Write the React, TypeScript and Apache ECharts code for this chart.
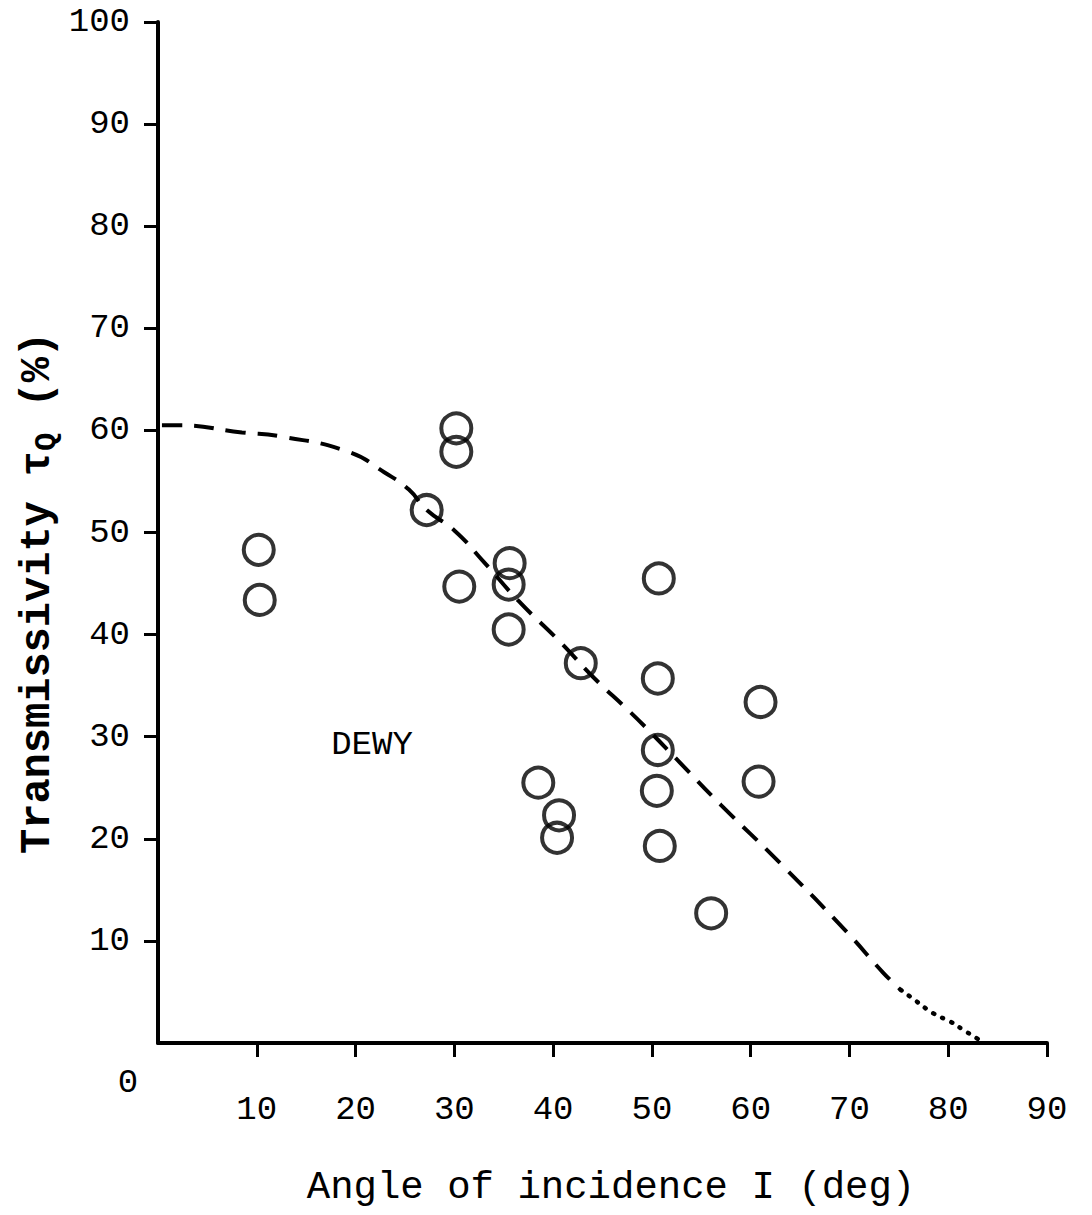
import React, { useEffect, useRef } from "react";
import * as echarts from "echarts";

// Measured observations: [angle (deg), transmissivity (%)]
const dewyPoints: number[][] = [
  [10.2, 48.3], [10.3, 43.4],
  [30.2, 60.2], [30.2, 57.9], [27.2, 52.2], [30.5, 44.7],
  [35.6, 47.0], [35.5, 44.9], [35.5, 40.5],
  [42.8, 37.2], [38.5, 25.5], [40.6, 22.3], [40.4, 20.1],
  [50.7, 45.5], [50.6, 35.7], [50.6, 28.7], [50.5, 24.7], [50.8, 19.3],
  [56.0, 12.7], [61.0, 33.4], [60.8, 25.6],
];

// Dashed model curve
const curveDashed: number[][] = [
  [0.4, 60.5], [1.9, 60.5], [8.5, 59.8], [12.5, 59.4], [19.3, 57.9],
  [22.9, 55.9], [25.4, 54.2], [27.2, 52.2], [30.0, 50.2], [33.0, 47.1],
  [36.5, 43.3], [40.8, 39.2], [44.1, 35.8], [47.6, 32.6], [49.9, 30.4],
  [52.6, 27.7], [57.0, 23.3], [63.0, 17.6], [69.8, 10.8], [73.4, 6.9],
  [75.2, 5.2],
];

// Dotted extrapolated tail
const curveDotted: number[][] = [
  [75.2, 5.2], [76.2, 4.5], [78.5, 2.9], [80.2, 2.1], [81.5, 1.3], [83.0, 0.4],
];

const xTicks = { min: 0, max: 90, interval: 10 };
const yTicks = { min: 0, max: 100, interval: 10 };

const FONT = "'Liberation Mono', 'DejaVu Sans Mono', monospace";

export default function App() {
  const ref = useRef<HTMLDivElement>(null);

  useEffect(() => {
    if (!ref.current) return;
    const chart = echarts.init(ref.current, undefined, { renderer: "svg" });
    chart.setOption({
      animation: false,
      backgroundColor: "#ffffff",
      grid: { left: 158, right: 45, top: 22, bottom: 172 },
      xAxis: {
        type: "value",
        min: xTicks.min,
        max: xTicks.max,
        interval: xTicks.interval,
        splitLine: { show: false },
        axisLine: { show: true, onZero: false, lineStyle: { color: "#000", width: 4 } },
        axisTick: { show: true, inside: false, length: 14, lineStyle: { color: "#000", width: 3 } },
        axisLabel: {
          showMinLabel: false,
          margin: 50,
          color: "#000",
          fontFamily: FONT,
          fontSize: 34,
        },
      },
      yAxis: {
        type: "value",
        min: yTicks.min,
        max: yTicks.max,
        interval: yTicks.interval,
        splitLine: { show: false },
        axisLine: { show: true, onZero: false, lineStyle: { color: "#000", width: 4 } },
        axisTick: { show: true, inside: false, length: 14, lineStyle: { color: "#000", width: 3 } },
        axisLabel: {
          showMinLabel: false,
          margin: 28,
          color: "#000",
          fontFamily: FONT,
          fontSize: 34,
        },
      },
      graphic: [
        {
          type: "text",
          x: 128,
          y: 1083,
          style: { text: "0", fill: "#000", font: `34px ${FONT}`, align: "center", verticalAlign: "middle" },
        },
        {
          type: "text",
          x: 611,
          y: 1188,
          style: {
            text: "Angle of incidence I (deg)",
            fill: "#000",
            font: `39px ${FONT}`,
            align: "center",
            verticalAlign: "middle",
          },
        },
        {
          type: "text",
          x: 38,
          y: 593,
          rotation: Math.PI / 2,
          style: {
            text: "{a|Transmissivity τ}{b|Q}{a| (%)}",
            fill: "#000",
            align: "center",
            verticalAlign: "middle",
            rich: {
              a: { fontFamily: FONT, fontSize: 42, fontWeight: "bold", fill: "#000" },
              b: { fontFamily: FONT, fontSize: 30, fontWeight: "bold", fill: "#000", padding: [18, 0, 0, 0] },
            },
          },
        },
        {
          type: "text",
          x: 372,
          y: 745,
          style: { text: "DEWY", fill: "#000", font: `34px ${FONT}`, align: "center", verticalAlign: "middle" },
        },
      ],
      series: [
        {
          type: "line",
          data: curveDashed,
          smooth: true,
          showSymbol: false,
          lineStyle: { color: "#000", width: 4, type: [20, 12] },
          z: 2,
        },
        {
          type: "line",
          data: curveDotted,
          smooth: true,
          showSymbol: false,
          lineStyle: { color: "#000", width: 4.5, type: [1, 9], cap: "round" },
          z: 2,
        },
        {
          type: "scatter",
          data: dewyPoints,
          symbol: "circle",
          symbolSize: 30,
          itemStyle: { color: "rgba(255,255,255,0)", borderColor: "#000", borderWidth: 4 },
          z: 3,
        },
      ],
    });
    return () => chart.dispose();
  }, []);

  return (
    <div
      ref={ref}
      style={{ position: "fixed", left: 0, top: 0, width: 1092, height: 1215, background: "#fff" }}
    />
  );
}
